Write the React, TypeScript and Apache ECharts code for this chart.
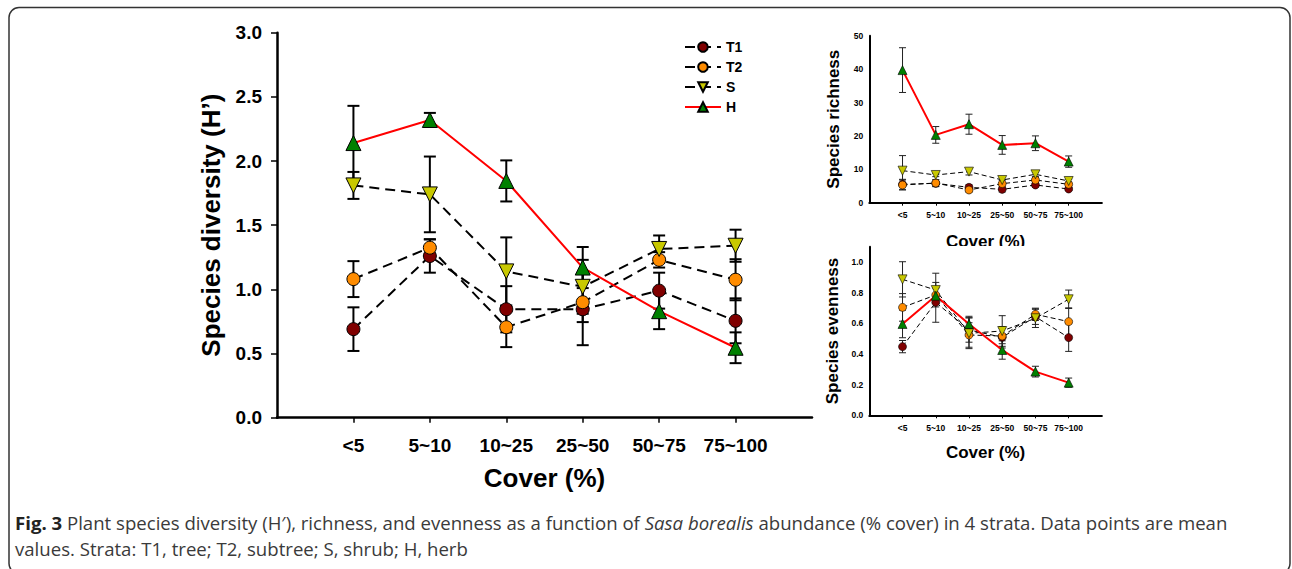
import React, { useEffect, useRef } from "react";
import * as echarts from "echarts";

// ---------- data ----------
const categories = ["<5", "5~10", "10~25", "25~50", "50~75", "75~100"];
const axisCats = ["", ...categories, ""];

// Species diversity (H')
const divT1 = [0.69, 1.26, 0.845, 0.845, 0.99, 0.755];
const divT1Err = [0.17, 0.13, 0.18, 0.28, 0.14, 0.175];
const divT2 = [1.08, 1.325, 0.705, 0.9, 1.23, 1.075];
const divT2Err = [0.14, 0.065, 0.155, 0.155, 0.06, 0.16];
const divS = [1.81, 1.74, 1.14, 1.02, 1.315, 1.34];
const divSErr = [0.105, 0.295, 0.265, 0.21, 0.105, 0.125];
const divH = [2.14, 2.32, 1.845, 1.17, 0.83, 0.545];
const divHErr = [0.29, 0.055, 0.16, 0.16, 0.14, 0.12];

// Species richness
const richT1 = [5.5, 5.8, 4.6, 4.0, 5.3, 4.1];
const richT1Err = [1.5, 1.0, 0.8, 0.8, 0.6, 0.5];
const richT2 = [5.3, 5.9, 3.8, 5.7, 6.8, 5.5];
const richT2Err = [1.5, 1.0, 0.7, 1.0, 0.8, 0.7];
const richS = [9.6, 8.3, 9.3, 6.8, 8.5, 6.5];
const richSErr = [4.5, 0.5, 1.0, 1.0, 0.7, 0.6];
const richH = [39.7, 20.3, 23.5, 17.3, 17.8, 12.3];
const richHErr = [6.7, 2.5, 3.0, 2.8, 2.2, 1.7];

// Species evenness
const evenT1 = [0.448, 0.737, 0.557, 0.509, 0.643, 0.507];
const evenT1Err = [0.04, 0.13, 0.08, 0.07, 0.05, 0.09];
const evenT2 = [0.704, 0.785, 0.524, 0.517, 0.659, 0.611];
const evenT2Err = [0.09, 0.05, 0.08, 0.05, 0.04, 0.09];
const evenS = [0.887, 0.817, 0.535, 0.55, 0.633, 0.757];
const evenSErr = [0.115, 0.11, 0.1, 0.1, 0.06, 0.06];
const evenH = [0.596, 0.78, 0.596, 0.426, 0.285, 0.213];
const evenHErr = [0.09, 0.05, 0.05, 0.06, 0.035, 0.03];

const legendNames = ["T1", "T2", "S", "H"];
const captionLine1 =
  "{b|Fig. 3} Plant species diversity (H′), richness, and evenness as a function of {i|Sasa borealis} abundance (% cover) in 4 strata. Data points are mean";
const captionLine2 = "values. Strata: T1, tree; T2, subtree; S, shrub; H, herb";

// ---------- styles ----------
const FONT = "'Liberation Sans', Arial, sans-serif";
const CAP_FONT = "'Open Sans', sans-serif";
const CAP_SIZE = 18.6;
const COLORS: Record<string, string> = {
  T1: "#800000",
  T2: "#ff8c00",
  S: "#c8c800",
  H: "#008000",
};
const SYMBOL: Record<string, string> = { T1: "circle", T2: "circle", S: "triangle", H: "triangle" };

function lineSeries(key: string, name: string, values: number[], gi: number, small: boolean) {
  const isH = key === "H";
  const tri = SYMBOL[key] === "triangle";
  return {
    type: "line",
    name,
    xAxisIndex: gi,
    yAxisIndex: gi,
    data: values.map((v, i) => [categories[i], v]),
    symbol: SYMBOL[key],
    symbolRotate: key === "S" ? 180 : 0,
    symbolSize: small ? (tri ? 9 : 8) : tri ? 15 : 13,
    itemStyle: { color: COLORS[key], borderColor: "#000", borderWidth: small ? 0.6 : 1 },
    lineStyle: isH
      ? { color: "#ff0000", width: 2, type: "solid" }
      : { color: "#000", width: small ? 1 : 2, type: small ? [5, 3] : [10, 6] },
    z: isH ? 5 : 4,
    silent: true,
  };
}

function errSeries(name: string, means: number[], errs: number[], gi: number, small: boolean) {
  const capHalf = small ? 3.5 : 6;
  const lw = small ? 1 : 2;
  const color = small ? "#222" : "#000";
  return {
    type: "custom",
    name,
    xAxisIndex: gi,
    yAxisIndex: gi,
    z: 3,
    silent: true,
    clip: false,
    encode: { x: 0, y: 1 },
    data: means.map((m, i) => [categories[i], m, errs[i]]),
    renderItem: (_p: any, api: any) => {
      const x = api.value(0);
      const m = api.value(1);
      const e = api.value(2);
      const t = api.coord([x, m + e]);
      const b = api.coord([x, m - e]);
      const st = { stroke: color, lineWidth: lw };
      return {
        type: "group",
        children: [
          { type: "line", shape: { x1: t[0], y1: t[1], x2: b[0], y2: b[1] }, style: st },
          { type: "line", shape: { x1: t[0] - capHalf, y1: t[1], x2: t[0] + capHalf, y2: t[1] }, style: st },
          { type: "line", shape: { x1: b[0] - capHalf, y1: b[1], x2: b[0] + capHalf, y2: b[1] }, style: st },
        ],
      };
    },
  };
}

function xAxisDef(gi: number, small: boolean, nameGap: number, labelMargin: number) {
  return {
    gridIndex: gi,
    type: "category",
    data: axisCats,
    boundaryGap: false,
    axisLine: { show: true, lineStyle: { color: "#000", width: small ? 2 : 2.5 } },
    axisTick: {
      show: true,
      length: small ? 3 : 5,
      interval: (_i: number, v: string) => v !== "",
      lineStyle: { color: "#000", width: small ? 1 : 1.5 },
    },
    axisLabel: {
      interval: 0,
      margin: labelMargin,
      fontSize: small ? 8.5 : 19,
      fontWeight: "bold",
      color: "#000",
      fontFamily: FONT,
    },
    splitLine: { show: false },
    name: "Cover (%)",
    nameLocation: "middle",
    nameGap,
    nameTextStyle: { fontSize: small ? 17 : 26, fontWeight: "bold", color: "#000", fontFamily: FONT },
  };
}

function yAxisDef(
  gi: number,
  small: boolean,
  name: string,
  min: number,
  max: number,
  interval: number,
  digits: number,
  nameGap: number,
  labelMargin: number
) {
  return {
    gridIndex: gi,
    type: "value",
    min,
    max,
    interval,
    axisLine: { show: true, lineStyle: { color: "#000", width: small ? 2 : 2.5 } },
    axisTick: { show: !small, length: 6, lineStyle: { color: "#000", width: 1.5 } },
    axisLabel: {
      margin: labelMargin,
      fontSize: small ? 8.5 : 19,
      fontWeight: "bold",
      color: "#000",
      fontFamily: FONT,
      showMaxLabel: max % interval === 0 ? true : false,
      formatter: (v: number) => v.toFixed(digits),
    },
    splitLine: { show: false },
    name,
    nameLocation: "middle",
    nameGap,
    nameRotate: 90,
    nameTextStyle: { fontSize: small ? 17 : 26, fontWeight: "bold", color: "#000", fontFamily: FONT },
  };
}

export default function App() {
  const ref = useRef<HTMLDivElement>(null);

  useEffect(() => {
    if (!ref.current) return;
    const chart = echarts.init(ref.current, undefined, { renderer: "svg" });

    const series: any[] = [];
    const groups: [number[][], number[][], number, boolean, string][] = [
      [[divT1, divT2, divS, divH], [divT1Err, divT2Err, divSErr, divHErr], 0, false, ""],
      [[richT1, richT2, richS, richH], [richT1Err, richT2Err, richSErr, richHErr], 1, true, " richness"],
      [[evenT1, evenT2, evenS, evenH], [evenT1Err, evenT2Err, evenSErr, evenHErr], 2, true, " evenness"],
    ];
    groups.forEach(([vals, errs, gi, small, suffix]) => {
      legendNames.forEach((k, i) => {
        series.push(errSeries(k + suffix + " err", vals[i], errs[i], gi, small));
      });
      legendNames.forEach((k, i) => {
        series.push(lineSeries(k, k + suffix, vals[i], gi, small));
      });
    });

    const option: any = {
      animation: false,
      backgroundColor: "#fff",
      textStyle: { fontFamily: FONT },
      grid: [
        { left: 277, top: 32.7, width: 535, height: 385 },
        { left: 869.3, top: 35.7, width: 232.6, height: 167 },
        { left: 869.3, top: 246.7, width: 232.6, height: 168.6 },
      ],
      xAxis: [xAxisDef(0, false, 47, 18), xAxisDef(1, true, 30, 8), xAxisDef(2, true, 28.5, 8)],
      yAxis: [
        yAxisDef(0, false, "Species diversity (H’)", 0, 3, 0.5, 1, 53, 15),
        yAxisDef(1, true, "Species richness", 0, 50, 10, 0, 27.5, 6),
        yAxisDef(2, true, "Species evenness", 0, 1.1, 0.2, 1, 28, 6),
      ],
      legend: {
        data: legendNames,
        orient: "vertical",
        left: 679,
        top: 35,
        itemWidth: 36,
        itemHeight: 12,
        itemGap: 6,
        selectedMode: false,
        textStyle: { fontSize: 14, fontWeight: "bold", color: "#000", fontFamily: FONT },
      },
      series,
      graphic: [
        {
          type: "rect",
          silent: true,
          z: 100,
          shape: { x: 930, y: 246, width: 120, height: 12 },
          style: { fill: "#fff" },
        },
        {
          type: "rect",
          silent: true,
          z: 100,
          shape: { x: 9, y: 7.5, width: 1281, height: 566, r: 10 },
          style: { fill: "none", stroke: "#333", lineWidth: 1.5 },
        },
        {
          type: "text",
          silent: true,
          z: 100,
          x: 15,
          y: 522,
          style: {
            text: captionLine1,
            fill: "#3a3a3a",
            fontSize: CAP_SIZE,
            fontFamily: CAP_FONT,
            verticalAlign: "middle",
            rich: {
              b: { fontWeight: "bold", fill: "#222", fontSize: CAP_SIZE, fontFamily: CAP_FONT },
              i: { fontStyle: "italic", fill: "#3a3a3a", fontSize: CAP_SIZE, fontFamily: CAP_FONT },
            },
          },
        },
        {
          type: "text",
          silent: true,
          z: 100,
          x: 15,
          y: 548,
          style: {
            text: captionLine2,
            fill: "#3a3a3a",
            fontSize: CAP_SIZE,
            fontFamily: CAP_FONT,
            verticalAlign: "middle",
          },
        },
      ],
    };

    chart.setOption(option);
    return () => {
      chart.dispose();
    };
  }, []);

  return (
    <div
      ref={ref}
      style={{ position: "absolute", left: 0, top: 0, width: 1292, height: 569, background: "#fff" }}
    />
  );
}
